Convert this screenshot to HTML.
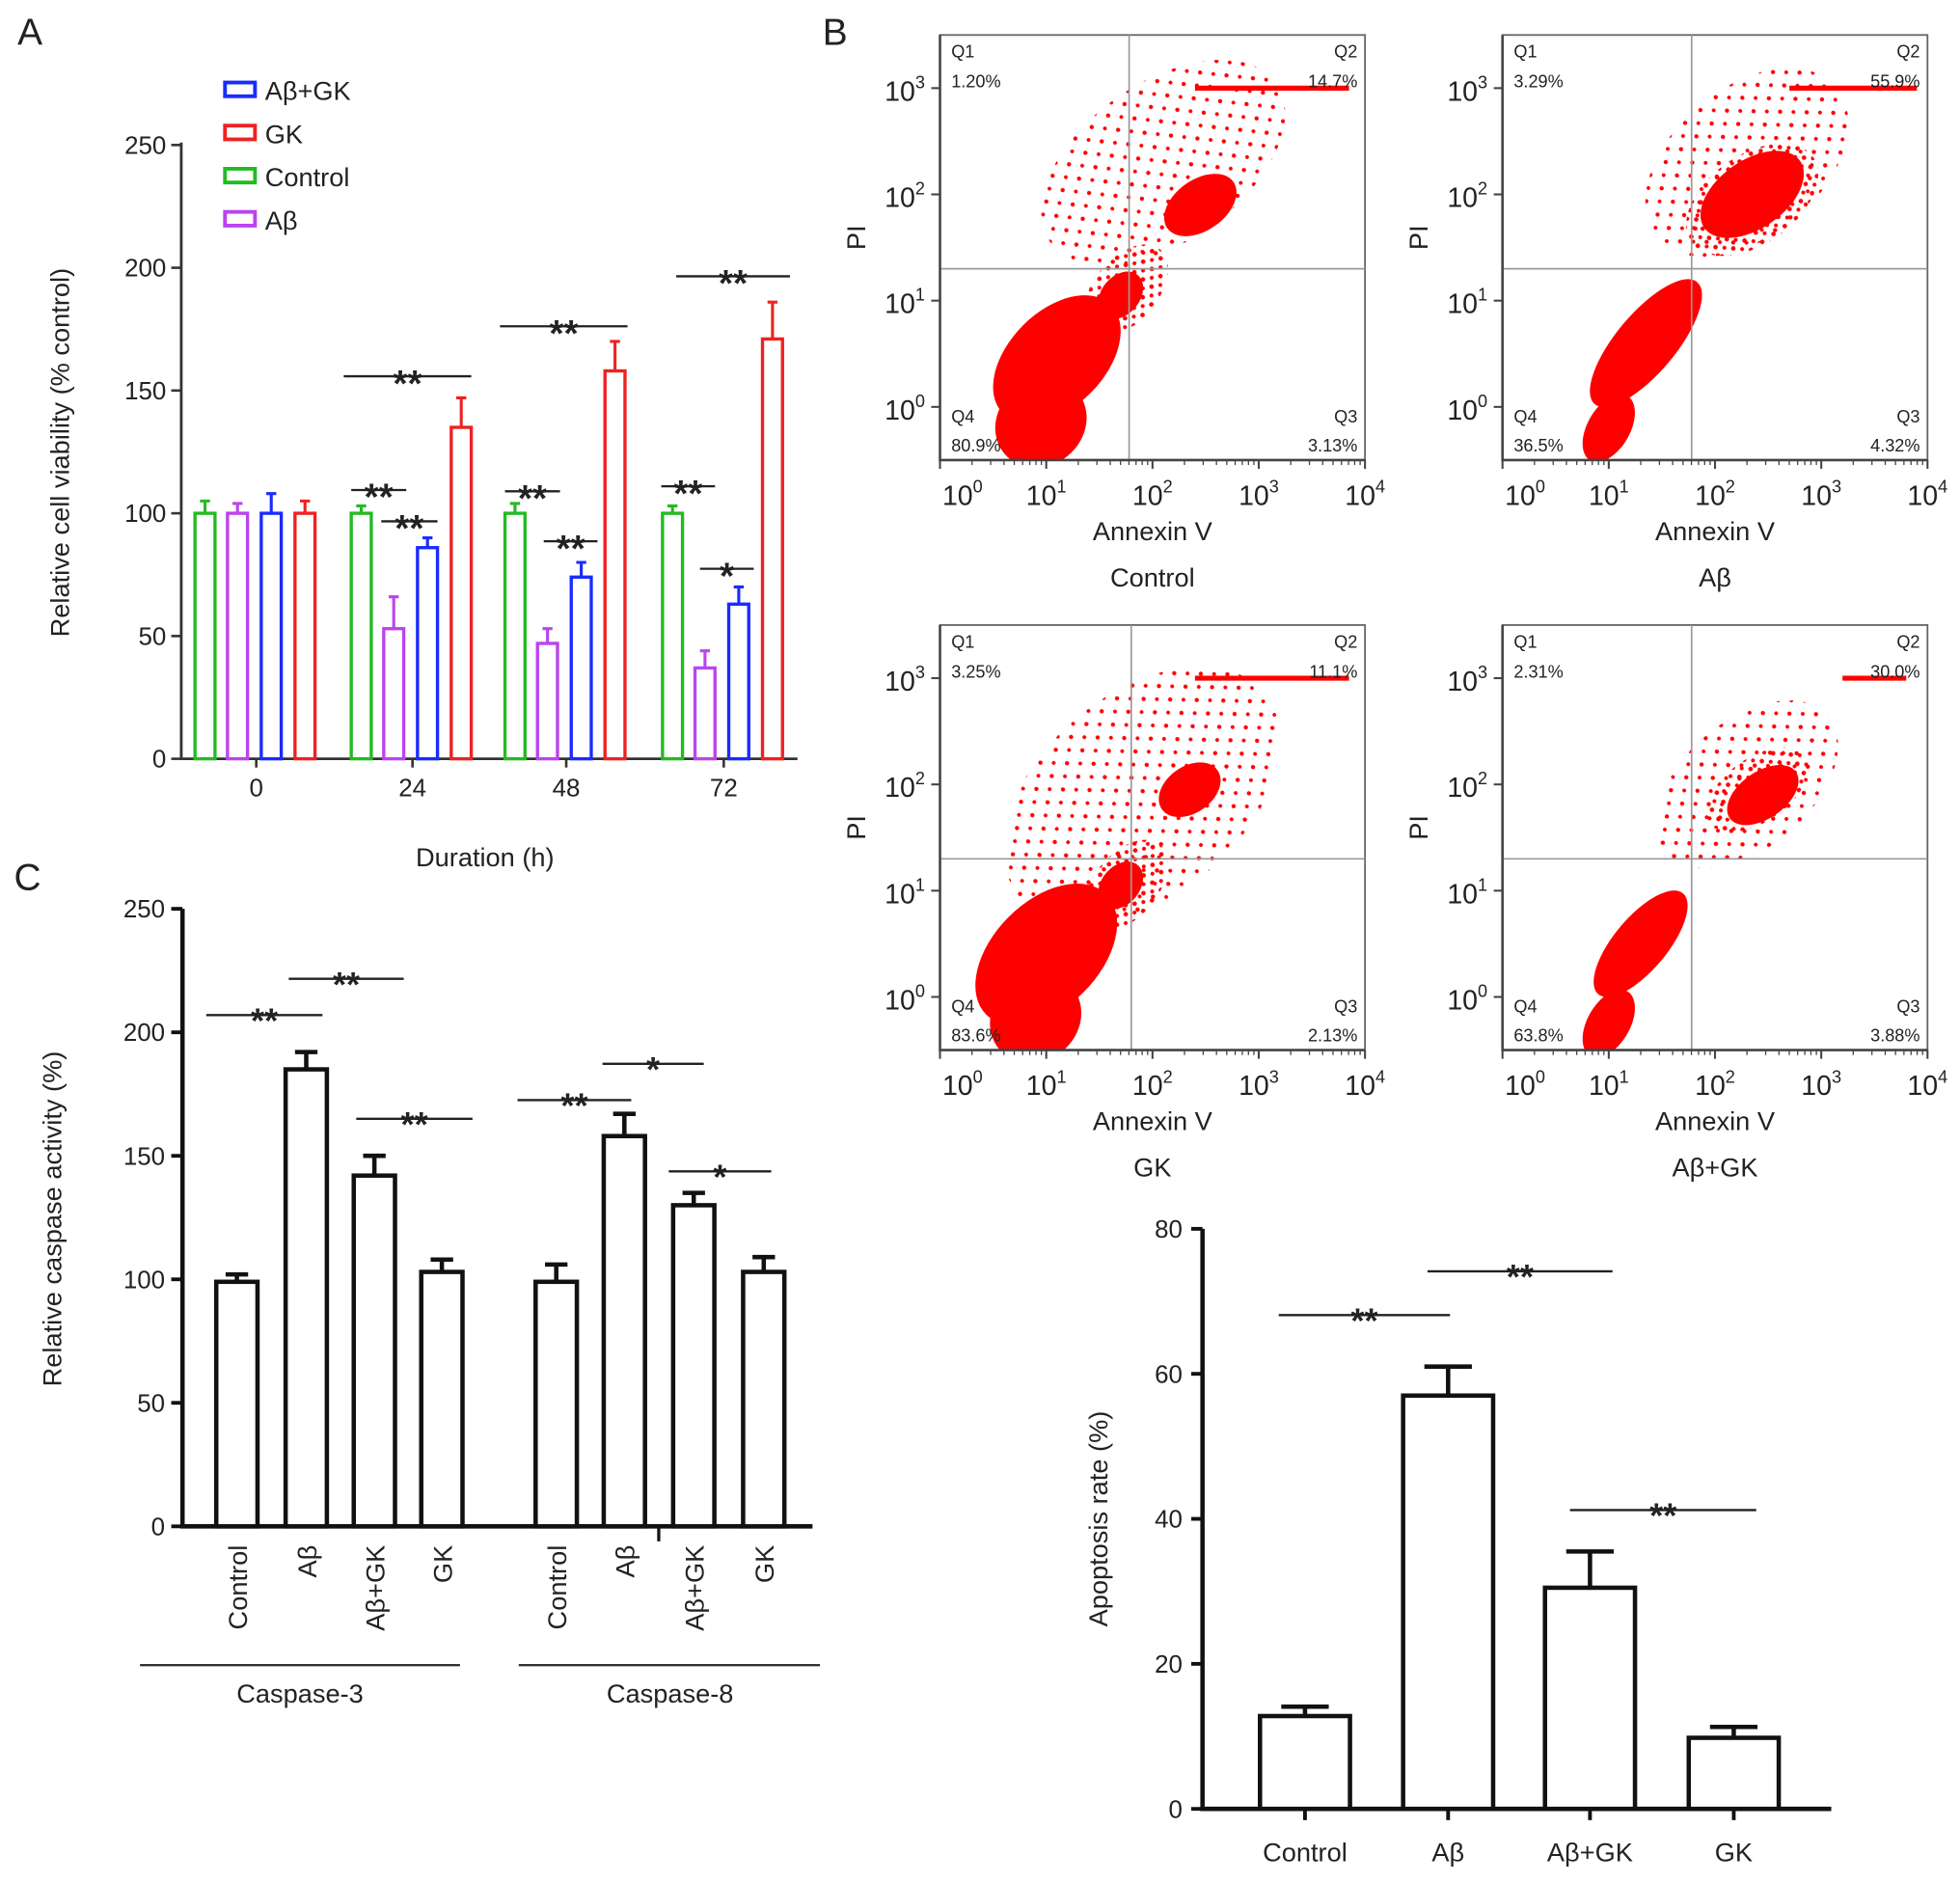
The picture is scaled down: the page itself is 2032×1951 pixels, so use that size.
<!DOCTYPE html>
<html><head><meta charset="utf-8"><style>
html,body{margin:0;padding:0;background:#fff}
svg{display:block}
text{font-family:"Liberation Sans",Arial,sans-serif;fill:#222}
</style></head><body>
<svg id="fig" xmlns="http://www.w3.org/2000/svg" width="2032" height="1951" viewBox="0 0 1568 1505.5">
<defs>
<pattern id="dots" width="11" height="9" patternUnits="userSpaceOnUse"><circle cx="3" cy="3" r="1.8" fill="#f00"/><circle cx="8.5" cy="7.5" r="1.6" fill="#f00"/></pattern>
<pattern id="dots2" width="16" height="14" patternUnits="userSpaceOnUse"><circle cx="4" cy="4" r="1.7" fill="#f00"/><circle cx="12" cy="11" r="1.5" fill="#f00"/></pattern>
</defs>
<rect x="0" y="0" width="1568" height="1506" fill="#fff"/>
</svg>
<script>
// ---------- Panel A data ----------
const aGroups = ['0','24','48','72'];
const aSeries = ['Control','Aβ','Aβ+GK','GK'];
const aColors = ['#22bb22','#bb44ee','#1a2bff','#ee2222'];
const aControl = [100,100,100,100];
const aAb = [100,53,47,37];
const aAbGk = [100,86,74,63];
const aGk = [100,135,158,171];
const aErrControl = [5,3,4,3];
const aErrAb = [4,13,6,7];
const aErrAbGk = [8,4,6,7];
const aErrGk = [5,12,12,15];
const aTicks = [0,50,100,150,200,250];
// ---------- Panel C data ----------
const cCats = ['Control','Aβ','Aβ+GK','GK'];
const cCasp3 = [99,185,142,103];
const cCasp8 = [99,158,130,103];
const cErr3 = [3,7,8,5];
const cErr8 = [7,9,5,6];
const cTicks = [0,50,100,150,200,250];
// ---------- Apoptosis data ----------
const dCats = ['Control','Aβ','Aβ+GK','GK'];
const dVals = [12.8,57,30.5,9.8];
const dErr = [1.3,4,5,1.5];
const dTicks = [0,20,40,60,80];
// ---------- Flow cytometry ----------
const fNames = ['Control','Aβ','GK','Aβ+GK'];
const fQ1 = ['1.20%','3.29%','3.25%','2.31%'];
const fQ2 = ['14.7%','55.9%','11.1%','30.0%'];
const fQ3 = ['3.13%','4.32%','2.13%','3.88%'];
const fQ4 = ['80.9%','36.5%','83.6%','63.8%'];
// clusters: [cx(log), cy(log), rx(decades), ry(decades), svgAngle, density(0 sparse,1 medium,2 solid)]
const fClusters = [
 [[2.1,2.3,1.3,0.75,-35,0],[1.75,1.1,0.5,0.3,-50,1],[1.1,0.45,0.72,0.45,-45,2],[0.95,-0.15,0.45,0.4,-40,2],[1.7,1.05,0.25,0.18,-50,2],[2.45,1.9,0.38,0.24,-35,2]],
 [[2.3,2.3,1.1,0.7,-40,0],[2.35,1.95,0.7,0.42,-35,1],[1.35,0.6,0.75,0.28,-50,2],[1.0,-0.2,0.35,0.2,-60,2],[2.35,2.0,0.55,0.32,-35,2]],
 [[1.9,1.9,1.5,0.95,-40,0],[1.75,1.05,0.5,0.3,-50,1],[1.0,0.4,0.8,0.5,-45,2],[0.9,-0.2,0.45,0.4,-40,2],[1.7,1.05,0.25,0.18,-50,2],[2.35,1.95,0.32,0.22,-35,2]],
 [[2.3,2.0,1.0,0.6,-40,0],[2.4,1.95,0.55,0.3,-35,1],[1.3,0.5,0.62,0.25,-50,2],[1.0,-0.25,0.35,0.2,-60,2],[2.45,1.9,0.38,0.22,-35,2]]
];
const fLineStart = [2.4,2.7,2.4,3.2];
const fLineEnd = [3.85,3.9,3.85,3.8];
const fQx = [1.78,1.78,1.8,1.78];
const fQy = [1.3,1.3,1.3,1.3];

const NS='http://www.w3.org/2000/svg';
const svg=document.getElementById('fig');
function E(tag,attrs,parent){const e=document.createElementNS(NS,tag);for(const k in attrs)e.setAttribute(k,attrs[k]);(parent||svg).appendChild(e);return e;}
function T(x,y,s,size,anchor,parent,extra){const e=E('text',Object.assign({x:x,y:y,'font-size':size,'text-anchor':anchor||'middle'},extra||{}),parent);e.textContent=s;return e;}

// ================= Panel A =================
{
 const g=E('g',{});
 
 
 const x0=145,x1=638,yb=607,yt=116;
 const ya=v=>yb-(v/250)*(yb-yt);
 const lbl=T(24,36,'A',30,'middle',g);
 
 
 const ax=E('path',{d:`M${x0},${yt-2} V${yb} H${x1}`,stroke:'#333','stroke-width':2.2,fill:'none'},g);
 
 
 aTicks.forEach(t=>{
  E('line',{x1:x0-8,x2:x0,y1:ya(t),y2:ya(t),stroke:'#333','stroke-width':2},g);
  const tl=T(x0-12,ya(t)+7,String(t),20,'end',g);
  
  
 });
 const groupCx=[205,330,453,579];
 const offs=[-41,-15,12,39];
 const vals=[aControl,aAb,aAbGk,aGk];
 const errs=[aErrControl,aErrAb,aErrAbGk,aErrGk];
 aGroups.forEach((gname,i)=>{
  const xl=T(groupCx[i],637,gname,20,'middle',g);
  
  
  E('line',{x1:groupCx[i],x2:groupCx[i],y1:yb,y2:yb+7,stroke:'#333','stroke-width':2},g);
  vals.forEach((arr,s)=>{
   const cx=groupCx[i]+offs[s],w=16,top=ya(arr[i]);
   const b=E('rect',{x:cx-w/2,y:top,width:w,height:yb-top,fill:'none',stroke:aColors[s],'stroke-width':2.6},g);
   
   
   const et=ya(arr[i]+errs[s][i]);
   const eb=E('path',{d:`M${cx},${top} V${et} M${cx-4},${et} H${cx+4}`,stroke:aColors[s],'stroke-width':2.4,fill:'none'},g);
   
   
  });
 });
 const yt2=T(0,0,'Relative cell viability (% control)',21,'middle',g,{transform:'translate(55,362) rotate(-90)'});
 
 
 const xt=T(388,693,'Duration (h)',21,'middle',g);
 
 
 [2,3,0,1].forEach((idx,k)=>{
  const y=72+k*34.5;
  const r=E('rect',{x:180,y:y-6,width:24,height:11,fill:'none',stroke:aColors[idx],'stroke-width':3},g);
  
  
  const lt=T(212,y+8,aSeries[idx],21,'start',g);
  
  
 });
 const sigA=[[275,377,301,'**'],[281,325,392,'**'],[305,350,417,'**'],[400,502,261,'**'],[404,448,393,'**'],[435,478,433,'**'],[541,632,221,'**'],[529,572,389,'**'],[560,603,455,'*']];
 sigA.forEach(s=>{
  E('line',{x1:s[0],x2:s[1],y1:s[2],y2:s[2],stroke:'#222','stroke-width':1.8},g);
  const st=T((s[0]+s[1])/2,s[2]+16,s[3],30,'middle',g,{'font-weight':'bold'});
  
  
 });
}

// ================= Panel C =================
{
 const g=E('g',{});
 
 
 const x0=146,x1=650,yb=1221,yt=727;
 const ya=v=>yb-(v/250)*(yb-yt);
 const lbl=T(22,712,'C',30,'middle',g);
 
 
 const ax=E('path',{d:`M${x0},${yt} V${yb} H${x1}`,stroke:'#111','stroke-width':3.5,fill:'none'},g);
 
 
 E('line',{x1:527,x2:527,y1:yb,y2:yb+12,stroke:'#111','stroke-width':2.5},g);
 cTicks.forEach(t=>{
  E('line',{x1:x0-9,x2:x0,y1:ya(t),y2:ya(t),stroke:'#111','stroke-width':3},g);
  const tl=T(x0-14,ya(t)+7,String(t),20,'end',g);
  
  
 });
 const c3x=[189.5,245,299.5,353.5], c8x=[445,499.5,555,611];
 [[cCasp3,cErr3,c3x,'caspase3'],[cCasp8,cErr8,c8x,'caspase8']].forEach(([vals,errs,xs,nm])=>{
  vals.forEach((v,i)=>{
   const w=33,top=ya(v);
   const b=E('rect',{x:xs[i]-w/2,y:top,width:w,height:yb-top,fill:'#fff',stroke:'#111','stroke-width':3.5},g);
   
   
   const et=ya(v+errs[i]);
   const eb=E('path',{d:`M${xs[i]},${top} V${et} M${xs[i]-9},${et} H${xs[i]+9}`,stroke:'#111','stroke-width':3.5,fill:'none'},g);
   
   
   const xl=T(0,0,cCats[i],21,'end',g,{transform:`translate(${xs[i]+8},${1236}) rotate(-90)`});
   
   
  });
 });
 E('line',{x1:112,x2:368,y1:1332,y2:1332,stroke:'#333','stroke-width':1.8},g);
 E('line',{x1:415,x2:656,y1:1332,y2:1332,stroke:'#333','stroke-width':1.8},g);
 const g3=T(240,1362,'Caspase-3',21,'middle',g);
 
 
 const g8=T(536,1362,'Caspase-8',21,'middle',g);
 
 
 const yt2=T(0,0,'Relative caspase activity (%)',21,'middle',g,{transform:'translate(49,975) rotate(-90)'});
 
 
 const sigC=[[165,258,812,'**'],[231,323,783,'**'],[285,378,895,'**'],[414,505,880,'**'],[482,563,851,'*'],[535,617,937,'*']];
 sigC.forEach(s=>{
  E('line',{x1:s[0],x2:s[1],y1:s[2],y2:s[2],stroke:'#222','stroke-width':1.8},g);
  const st=T((s[0]+s[1])/2,s[2]+14,s[3],28,'middle',g,{'font-weight':'bold'});
  
  
 });
}

// ================= Apoptosis chart =================
{
 const g=E('g',{});
 
 
 const x0=962,x1=1465,yb=1447,yt=983;
 const ya=v=>yb-(v/80)*(yb-yt);
 const ax=E('path',{d:`M${x0},${yt} V${yb} H${x1}`,stroke:'#111','stroke-width':3.5,fill:'none'},g);
 
 
 dTicks.forEach(t=>{
  E('line',{x1:x0-9,x2:x0,y1:ya(t),y2:ya(t),stroke:'#111','stroke-width':3},g);
  const tl=T(x0-16,ya(t)+7,String(t),20,'end',g);
  
  
 });
 const xs=[1044,1158.5,1272,1387];
 dVals.forEach((v,i)=>{
  const w=72,top=ya(v);
  const b=E('rect',{x:xs[i]-w/2,y:top,width:w,height:yb-top,fill:'#fff',stroke:'#111','stroke-width':3.5},g);
  
  
  const et=ya(v+dErr[i]);
  const eb=E('path',{d:`M${xs[i]},${top} V${et} M${xs[i]-19},${et} H${xs[i]+19}`,stroke:'#111','stroke-width':3.5,fill:'none'},g);
  
  
  E('line',{x1:xs[i],x2:xs[i],y1:yb,y2:yb+9,stroke:'#111','stroke-width':3},g);
  const xl=T(xs[i],1489,dCats[i],21,'middle',g);
  
  
 });
 const yt2=T(0,0,'Apoptosis rate (%)',21,'middle',g,{transform:'translate(886,1215) rotate(-90)'});
 
 
 const sigD=[[1023,1160,1052,'**'],[1142,1290,1017,'**'],[1256,1405,1208,'**']];
 sigD.forEach(s=>{
  E('line',{x1:s[0],x2:s[1],y1:s[2],y2:s[2],stroke:'#222','stroke-width':1.8},g);
  const st=T((s[0]+s[1])/2,s[2]+14,s[3],28,'middle',g,{'font-weight':'bold'});
  
  
 });
}

// ================= Panel B flow plots =================
{
 const lbl=T(668,36,'B',30,'middle');
 
 
 const origins=[[752,28],[1202,28],[752,500],[1202,500]];
 const fills=['url(#dots2)','url(#dots)','#f00'];
 fNames.forEach((nm,p)=>{
  const [ox,oy]=origins[p];
  const W=340,H=340;
  const px=l=>ox+(l/4)*W;
  const py=l=>oy+H-((l+0.5)/4)*H;
  const g=E('g',{});
  
  
  const cp='clip'+p;
  const cl=E('clipPath',{id:cp},g);
  E('rect',{x:ox,y:oy,width:W,height:H},cl);
  const frame=E('rect',{x:ox,y:oy,width:W,height:H,fill:'none',stroke:'#666','stroke-width':1.4},g);
  
  
  const cg=E('g',{'clip-path':`url(#${cp})`},g);
  fClusters[p].forEach(c=>{
   const el=E('ellipse',{cx:px(c[0]),cy:py(c[1]),rx:c[2]*W/4,ry:c[3]*H/4,fill:fills[c[5]],transform:`rotate(${c[4]} ${px(c[0])} ${py(c[1])})`},cg);
   
   
  });
  const sat=E('line',{x1:px(fLineStart[p]),x2:px(fLineEnd[p]),y1:py(3),y2:py(3),stroke:'#f00','stroke-width':4},cg);
  
  
  const q=E('path',{d:`M${px(fQx[p])},${oy} V${oy+H} M${ox},${py(fQy[p])} H${ox+W}`,stroke:'#999','stroke-width':1.3,fill:'none'},g);
  
  
  E('path',{d:`M${ox},${oy} V${oy+H} H${ox+W}`,stroke:'#444','stroke-width':2,fill:'none'},g);
  for(let d=0;d<=4;d++){
   E('line',{x1:px(d),x2:px(d),y1:oy+H,y2:oy+H+7,stroke:'#444','stroke-width':1.6},g);
   const t=E('text',{x:px(d)+(d==0?18:0),y:oy+H+36,'font-size':22,'text-anchor':'middle'},g);
   t.innerHTML='10<tspan dy="-10" font-size="14">'+d+'</tspan>';
   
   
   for(let m=2;m<10&&d<4;m++){const lx=px(d+Math.log10(m));E('line',{x1:lx,x2:lx,y1:oy+H,y2:oy+H+4,stroke:'#444','stroke-width':1},g);}
  }
  for(let d=0;d<=3;d++){
   E('line',{x1:ox-7,x2:ox,y1:py(d),y2:py(d),stroke:'#444','stroke-width':1.6},g);
   const t=E('text',{x:ox-12,y:py(d)+10,'font-size':22,'text-anchor':'end'},g);
   t.innerHTML='10<tspan dy="-10" font-size="14">'+d+'</tspan>';
   
   
  }
  const qs=[[ox+9,oy+18,'Q1','start'],[ox+9,oy+42,fQ1[p],'start'],[ox+W-6,oy+18,'Q2','end'],[ox+W-6,oy+42,fQ2[p],'end'],[ox+9,oy+H-30,'Q4','start'],[ox+9,oy+H-7,fQ4[p],'start'],[ox+W-6,oy+H-30,'Q3','end'],[ox+W-6,oy+H-7,fQ3[p],'end']];
  qs.forEach(q2=>{const t=T(q2[0],q2[1],q2[2],14,q2[3],g);
   
   });
  const xt=T(ox+170,oy+404,'Annexin V',21,'middle',g);
  
  
  const yt2=T(0,0,'PI',21,'middle',g,{transform:`translate(${ox-60},${oy+162}) rotate(-90)`});
  
  
  const gl=T(ox+170,oy+441,nm,21,'middle',g);
  
  
 });
}
</script>
</body></html>
